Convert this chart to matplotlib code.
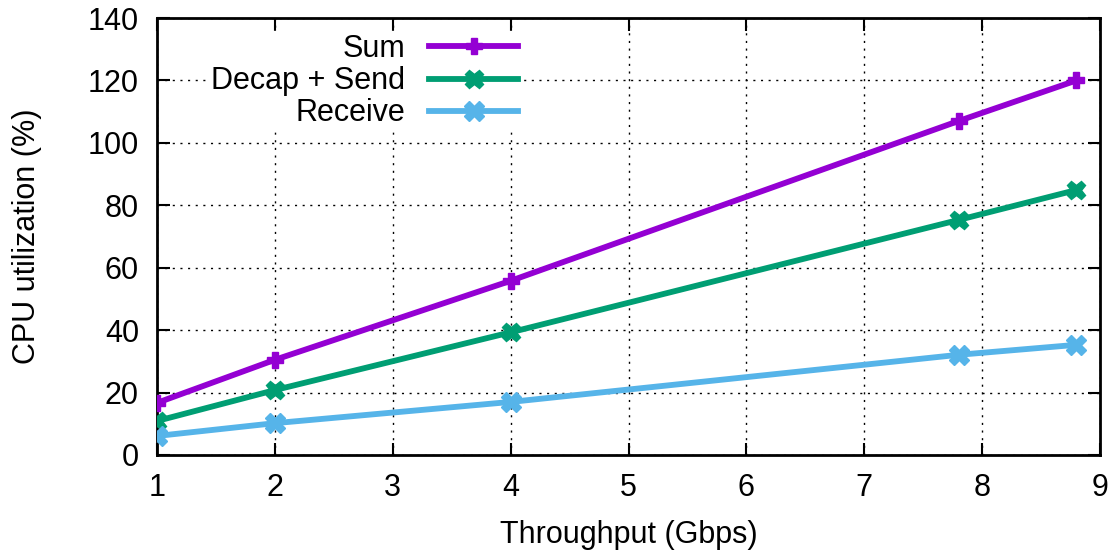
import matplotlib
matplotlib.use("Agg")
import matplotlib.pyplot as plt

throughput = [1.0, 2.0, 4.0, 7.8, 8.8]
sum_cpu = [16.7, 30.5, 55.8, 107.0, 120.0]
decap_send = [10.9, 20.8, 39.3, 75.3, 84.9]
receive = [6.1, 10.2, 17.0, 32.1, 35.3]

x_ticks = [1, 2, 3, 4, 5, 6, 7, 8, 9]
y_ticks = [0, 20, 40, 60, 80, 100, 120, 140]

plt.rcParams['font.family'] = ['Liberation Sans', 'DejaVu Sans']

W, H = 1110, 555
fig = plt.figure(figsize=(W/100, H/100), dpi=100)
ax = fig.add_axes([157/W, 1-455/H, (1100-157)/W, (455-18)/H])

fs = 22
lw = 4.2
ax.plot(throughput, sum_cpu, color='#9400D3', lw=lw, marker='P', ms=11, label='Sum', zorder=3)
ax.plot(throughput, decap_send, color='#009E73', lw=lw, marker='X', ms=13, label='Decap + Send', zorder=3)
ax.plot(throughput, receive, color='#56B4E9', lw=lw, marker='X', ms=15, label='Receive', zorder=3)

ax.set_xlim(1, 9)
ax.set_ylim(0, 140)
ax.set_xticks(x_ticks)
ax.set_yticks(y_ticks)
ax.tick_params(direction='in', length=9, width=1.5, labelsize=fs, top=True, right=True)
ax.tick_params(axis='x', pad=13)
ax.tick_params(axis='y', pad=13)
ax.grid(True, linestyle=(0, (1.5, 4)), color='black', linewidth=1.0, zorder=0)
for s in ax.spines.values():
    s.set_linewidth(2)

fig.text(27/W, 1-236/H, 'CPU utilization (%)', rotation=90, ha='center', va='center', fontsize=fs)
fig.text((157+1100)/2/W, 1-543/H, 'Throughput (Gbps)', ha='center', va='baseline', fontsize=fs)

leg = ax.legend(loc='upper right', bbox_to_anchor=((521-157)/943, (455-31)/437), markerfirst=False,
                frameon=True, fancybox=False, edgecolor='white', framealpha=1,
                fontsize=fs, handlelength=2.9, handletextpad=0.8, labelspacing=0.07,
                borderpad=0.1, borderaxespad=0)
for t in leg.get_texts():
    t.set_ha('right')
leg.set_zorder(2)

fig.savefig('out.png', dpi=100)
